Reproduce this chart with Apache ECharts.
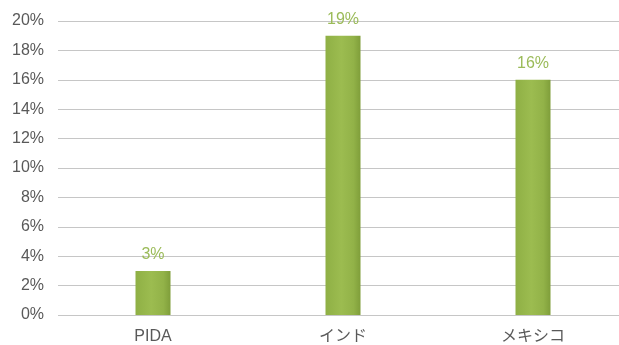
<!DOCTYPE html>
<html>
<head>
<meta charset="utf-8">
<script src="https://cdn.jsdelivr.net/npm/echarts@6/dist/echarts.min.js"></script>
<style>
  html, body { margin: 0; padding: 0; background: #fff; overflow: hidden; width: 619px; height: 345px; }
  #chart { width: 628px; height: 345px; }
</style>
</head>
<body>
<div id="chart"></div>
<script>
// Share by country (percent)
const categories = ['PIDA', 'インド', 'メキシコ'];
const values = [3, 19, 16];
const yTicks = { min: 0, max: 20, interval: 2 };

const fontFamily = '"Liberation Sans", "Noto Sans CJK JP", sans-serif';

const chart = echarts.init(document.getElementById('chart'));
chart.setOption({
  animation: false,
  grid: { left: 58, top: 21, right: 0, bottom: 30, containLabel: false },
  xAxis: {
    type: 'category',
    data: categories,
    axisLine: { show: false },
    axisTick: { show: false },
    axisLabel: { color: '#595959', fontSize: 16, fontFamily: fontFamily, margin: 14 }
  },
  yAxis: {
    type: 'value',
    min: yTicks.min,
    max: yTicks.max,
    interval: yTicks.interval,
    axisLine: { show: false },
    axisTick: { show: false },
    axisLabel: { color: '#595959', fontSize: 16, fontFamily: fontFamily, margin: 14, formatter: '{value}%' },
    splitLine: { lineStyle: { color: '#c6c6c6', width: 1 } }
  },
  series: [{
    type: 'bar',
    data: values,
    barWidth: 35,
    itemStyle: {
      color: new echarts.graphic.LinearGradient(0, 0, 1, 0, [
        { offset: 0, color: '#8fb045' },
        { offset: 0.45, color: '#9cbc50' },
        { offset: 0.8, color: '#92b248' },
        { offset: 1, color: '#7f9e3a' }
      ])
    },
    label: {
      show: true,
      position: 'top',
      distance: 8,
      formatter: '{c}%',
      color: '#9bbb59',
      fontSize: 16,
      fontFamily: fontFamily
    }
  }]
});
</script>
</body>
</html>
